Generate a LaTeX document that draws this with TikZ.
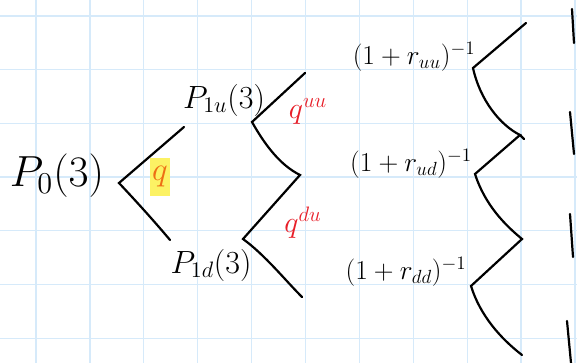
\documentclass[tikz,border=0pt]{standalone}
\usepackage{graphicx}
\usepackage{amsmath}
\definecolor{gridblue}{RGB}{214,234,250}
\definecolor{qred}{RGB}{232,30,40}
\definecolor{qorange}{RGB}{238,110,20}
\definecolor{hilite}{RGB}{252,242,100}
\newcommand{\bigsz}[2]{\scalebox{#1}{\fontsize{20.74}{24}\selectfont #2}}
\begin{document}
\begin{tikzpicture}[x=1pt,y=-1pt,
  gridline/.style={draw=gridblue,line width=1.3pt},
  br/.style={line width=2.2pt,line cap=round,draw=black},
  txt/.style={inner sep=0pt},
  redtxt/.style={inner sep=0pt,text=qred},
  tick/.style={line width=2.2pt,line cap=round,draw=black}]
\useasboundingbox (0,0) rectangle (577,363);
\fill[white] (0,0) rectangle (577,363);
% grid
\foreach \i in {0,...,10} {\draw[gridline] ({36+53.9*\i},0) -- ({36+53.9*\i},363);}
\foreach \j in {0,...,6} {\draw[gridline] (0,{16+53.7*\j}) -- (577,{16+53.7*\j});}

% text nodes
\node[txt] (p0) at (57,176) {\bigsz{2.1}{$P_0(3)$}};
\node[txt] (p1u) at (224,100) {\bigsz{1.55}{$P_{1u}(3)$}};
\node[txt] (p1d) at (211,265) {\bigsz{1.55}{$P_{1d}(3)$}};
\node[txt] (ruu) at (414,57) {\bigsz{1.32}{$(1+r_{uu})^{-1}$}};
\node[txt] (rud) at (411,164) {\bigsz{1.32}{$(1+r_{ud})^{-1}$}};
\node[txt] (rdd) at (406,272) {\bigsz{1.32}{$(1+r_{dd})^{-1}$}};
\node[fill=hilite,minimum width=20pt,minimum height=38pt,inner sep=0pt,
      text=qorange] (q) at (160,177) {\bigsz{1.6}{$q$}};
\node[redtxt] (quu) at (308,111) {\bigsz{1.45}{$q^{uu}$}};
\node[redtxt] (qdu) at (303,223) {\bigsz{1.45}{$q^{du}$}};

% joints
\coordinate (a0) at (119,183);
\coordinate (a1) at (184,127);
\coordinate (a2) at (170,240);
\coordinate (b0) at (252,122);
\coordinate (b1) at (305,73);
\coordinate (b2) at (300,175);
\coordinate (c0) at (243,239);
\coordinate (c1) at (302,297);
\coordinate (d0) at (526,23);
\coordinate (d1) at (473,68);
\coordinate (d2) at (520,135);
\coordinate (d3) at (475,174);
\coordinate (d4) at (522,239);
\coordinate (d5) at (471,286);
\coordinate (d6) at (522,355);

% connectors
\draw[br] (a1) -- (a0) .. controls (135,200) and (155,222) .. (a2);
\draw[br] (b1) -- (b0) .. controls (265,145) and (280,165) .. (b2) -- (c0)
          .. controls (265,255) and (285,280) .. (c1);
\draw[br] (d0) -- (d1) .. controls (480,100) and (500,125) .. (d2) -- (d3)
          .. controls (485,205) and (505,225) .. (d4) -- (d5)
          .. controls (480,315) and (500,338) .. (d6);
\draw[br] (d2) -- ++(4,4);

% right-edge strokes
\coordinate (e1a) at (572,9);   \coordinate (e1b) at (574,43);
\coordinate (e2a) at (570,112); \coordinate (e2b) at (574,154);
\coordinate (e3a) at (570,214); \coordinate (e3b) at (573,257);
\coordinate (e4a) at (567,321); \coordinate (e4b) at (571,363);
\draw[tick] (e1a) -- (e1b);
\draw[tick] (e2a) -- (e2b);
\draw[tick] (e3a) -- (e3b);
\draw[tick] (e4a) -- (e4b);
\end{tikzpicture}
\end{document}
